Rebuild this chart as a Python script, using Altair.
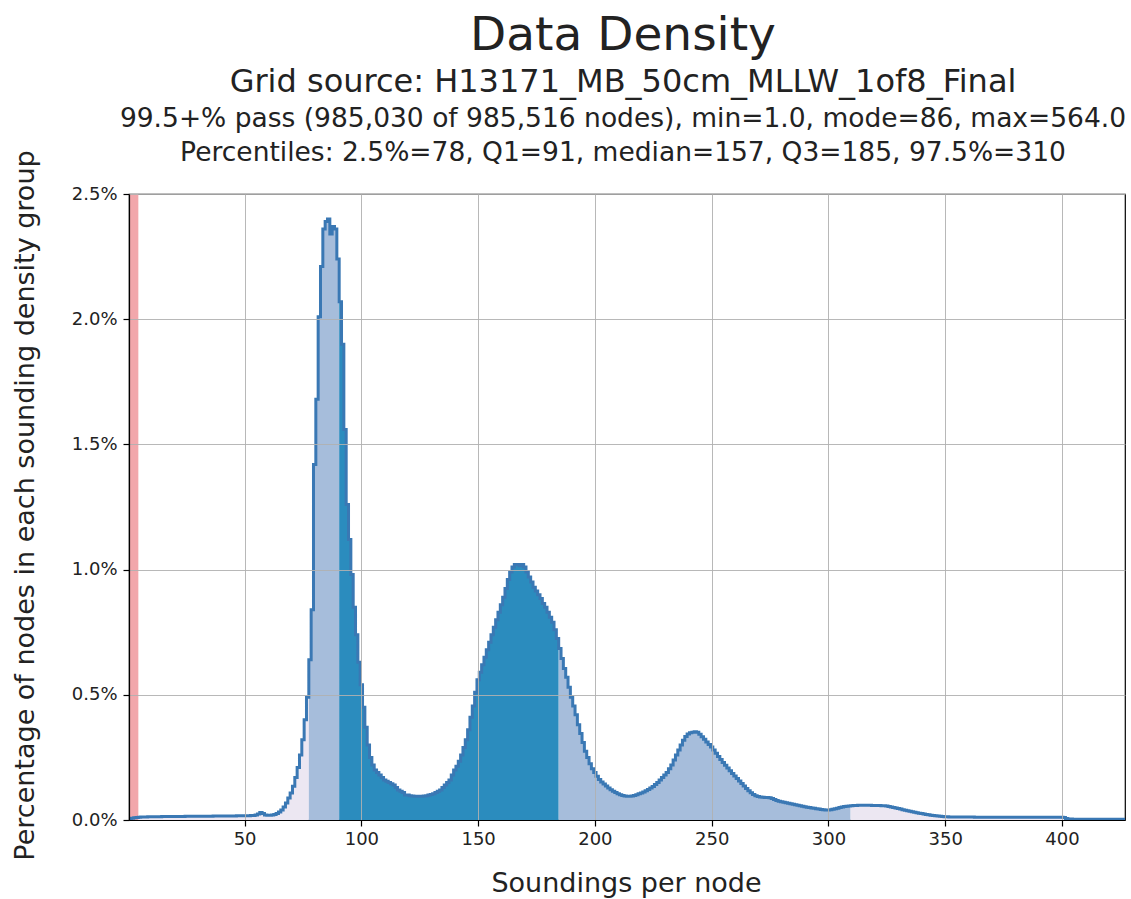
import altair as alt
import pandas as pd

# Sounding-density histogram: percentage of nodes in each 1-sounding bin,
# bins centred on the integer counts starting at FIRST_BIN.
FIRST_BIN = 1

pct_bins_001_054 = [
    0.004, 0.007, 0.009, 0.010, 0.011, 0.012, 0.012, 0.012, 0.013, 0.013,
    0.013, 0.013, 0.013, 0.013, 0.014, 0.014, 0.014, 0.014, 0.014, 0.014,
    0.014, 0.014, 0.014, 0.014, 0.015, 0.015, 0.015, 0.015, 0.015, 0.015,
    0.015, 0.015, 0.015, 0.015, 0.015, 0.015, 0.016, 0.016, 0.016, 0.016,
    0.016, 0.016, 0.016, 0.016, 0.016, 0.016, 0.017, 0.017, 0.017, 0.017,
    0.017, 0.017, 0.018, 0.018,
]
pct_bins_055_119 = [
    0.020, 0.024, 0.030, 0.026, 0.020, 0.019, 0.019, 0.020, 0.022, 0.026,
    0.032, 0.040, 0.052, 0.068, 0.088, 0.108, 0.135, 0.170, 0.210, 0.260,
    0.320, 0.400, 0.490, 0.640, 0.840, 1.420, 1.680, 2.010, 2.210, 2.360,
    2.390, 2.400, 2.340, 2.370, 2.360, 2.240, 2.070, 1.900, 1.560, 1.260,
    1.120, 0.980, 0.850, 0.740, 0.630, 0.540, 0.450, 0.370, 0.300, 0.250,
    0.220, 0.200, 0.190, 0.180, 0.170, 0.160, 0.155, 0.150, 0.145, 0.140,
    0.130, 0.120, 0.115, 0.110, 0.100,
]
pct_bins_120_219 = [
    0.100, 0.097, 0.096, 0.095, 0.095, 0.095, 0.095, 0.096, 0.097, 0.100,
    0.102, 0.105, 0.110, 0.115, 0.120, 0.130, 0.140, 0.150, 0.160, 0.180,
    0.200, 0.215, 0.235, 0.260, 0.290, 0.320, 0.360, 0.410, 0.455, 0.510,
    0.560, 0.590, 0.620, 0.650, 0.680, 0.710, 0.740, 0.770, 0.800, 0.830,
    0.860, 0.890, 0.925, 0.960, 0.990, 1.010, 1.020, 1.020, 1.015, 1.020,
    1.010, 0.990, 0.970, 0.950, 0.930, 0.915, 0.900, 0.885, 0.865, 0.850,
    0.830, 0.810, 0.790, 0.760, 0.725, 0.685, 0.645, 0.605, 0.570, 0.530,
    0.490, 0.455, 0.420, 0.380, 0.345, 0.310, 0.275, 0.250, 0.225, 0.205,
    0.190, 0.175, 0.162, 0.152, 0.144, 0.136, 0.128, 0.121, 0.115, 0.110,
    0.105, 0.101, 0.098, 0.096, 0.095, 0.095, 0.096, 0.098, 0.101, 0.105,
]
pct_bins_220_300 = [
    0.108, 0.112, 0.117, 0.122, 0.128, 0.134, 0.142, 0.150, 0.160, 0.170,
    0.180, 0.190, 0.205, 0.220, 0.240, 0.260, 0.280, 0.300, 0.318, 0.333,
    0.343, 0.348, 0.350, 0.352, 0.350, 0.342, 0.332, 0.322, 0.312, 0.302,
    0.292, 0.280, 0.267, 0.254, 0.242, 0.230, 0.219, 0.208, 0.197, 0.186,
    0.176, 0.166, 0.156, 0.146, 0.136, 0.126, 0.117, 0.109, 0.102, 0.097,
    0.094, 0.092, 0.091, 0.090, 0.090, 0.089, 0.086, 0.082, 0.078, 0.075,
    0.073, 0.071, 0.069, 0.067, 0.065, 0.063, 0.061, 0.059, 0.057, 0.055,
    0.053, 0.051, 0.050, 0.048, 0.047, 0.045, 0.044, 0.042, 0.041, 0.040,
    0.040,
]
pct_bins_301_427 = [
    0.041, 0.043, 0.045, 0.047, 0.050, 0.052, 0.054, 0.055, 0.056,
    0.057, 0.058, 0.058, 0.059, 0.059, 0.059, 0.059, 0.059, 0.059, 0.058,
    0.058, 0.058, 0.058, 0.057, 0.057, 0.056, 0.054, 0.052, 0.050, 0.048,
    0.046, 0.044, 0.041, 0.039, 0.037, 0.035, 0.033, 0.031, 0.029, 0.027,
    0.026, 0.024, 0.022, 0.021, 0.019, 0.018, 0.017, 0.016, 0.015, 0.014,
    0.013, 0.013, 0.012, 0.012, 0.012, 0.012, 0.012, 0.012, 0.012, 0.012,
    0.012, 0.012, 0.012, 0.011, 0.011, 0.011, 0.011, 0.011, 0.011, 0.011,
    0.011, 0.011, 0.011, 0.011, 0.011, 0.011, 0.011, 0.011, 0.011, 0.011,
    0.011, 0.011, 0.011, 0.011, 0.011, 0.011, 0.011, 0.011, 0.011, 0.011,
    0.011, 0.011, 0.011, 0.011, 0.011, 0.011, 0.011, 0.011, 0.011, 0.011,
    0.011, 0.010, 0.006, 0.004, 0.004, 0.003, 0.003, 0.003, 0.003, 0.003,
    0.003, 0.003, 0.003, 0.003, 0.003, 0.003, 0.003, 0.003, 0.003, 0.003,
    0.003, 0.003, 0.003, 0.003, 0.003, 0.003, 0.003, 0.003,
]

# Summary statistics shown in the header
grid_source = "H13171_MB_50cm_MLLW_1of8_Final"
nodes_pass = 985030
nodes_total = 985516
stat_min = 1.0
stat_mode = 86
stat_max = 564.0
pctl_2_5 = 78
pctl_q1 = 91
pctl_median = 157
pctl_q3 = 185
pctl_97_5 = 310
min_soundings = 5  # nodes with fewer soundings than this fail

x_tick_values = [50, 100, 150, 200, 250, 300, 350, 400]
y_tick_values = [0.0, 0.5, 1.0, 1.5, 2.0, 2.5]
x_domain = [0.5, 427]
y_domain = [0.0, 2.5]

band_domain = ["outer", "middle", "inner"]
band_range = ["#ece7f2", "#a6bddb", "#2b8cbe"]
outline_color = "#3a78b4"
fail_color = "#f2a7ab"
text_color = "#222222"
font = "DejaVu Sans"

W, H = 996, 626

# ---------------------------------------------------------------- tables
pct = (pct_bins_001_054 + pct_bins_055_119 + pct_bins_120_219
       + pct_bins_220_300 + pct_bins_301_427)
bins = list(range(FIRST_BIN, FIRST_BIN + len(pct)))


def band_of(k):
    if k < pctl_2_5 or k >= pctl_97_5:
        return "outer"
    if k < pctl_q1 or k >= pctl_q3:
        return "middle"
    return "inner"


# Filled step areas, one contiguous run per percentile band
fill_rows = []
seg = 0
prev_band = None
for i, (k, v) in enumerate(zip(bins, pct)):
    b = band_of(k)
    if prev_band is not None and b != prev_band:
        # close the previous run at its right bin edge
        fill_rows.append({"x": k - 0.5, "pct": pct[i - 1], "band": prev_band, "seg": seg})
        seg += 1
    fill_rows.append({"x": k - 0.5, "pct": v, "band": b, "seg": seg})
    prev_band = b
fill_rows.append({"x": bins[-1] + 0.5, "pct": pct[-1], "band": prev_band, "seg": seg})
fills_df = pd.DataFrame(fill_rows)

outline_df = pd.DataFrame(
    {"x": [k - 0.5 for k in bins] + [bins[-1] + 0.5], "pct": pct + [pct[-1]]}
)
fail_df = pd.DataFrame({"x": [x_domain[0]], "x_end": [min_soundings - 0.5]})

# ---------------------------------------------------------------- encodings
x_scale = alt.Scale(domain=x_domain, nice=False, zero=False)
y_scale = alt.Scale(domain=y_domain, nice=False, zero=False)

grid_kw = dict(grid=True, gridColor="#b0b0b0", gridOpacity=0.9, gridWidth=1,
               domainColor="black", domainWidth=1.2,
               tickColor="black", tickSize=6, tickWidth=1.2,
               labelFont=font, labelFontSize=18, labelColor=text_color,
               titleFont=font, titleFontWeight="normal", titleColor=text_color,
               zindex=1)

x_axis = alt.Axis(values=x_tick_values, format="d", labelPadding=4, labelFlush=False,
                  title="Soundings per node", titleFontSize=27,
                  titleX=497, titleY=71, titleAlign="center",
                  titleBaseline="alphabetic", **grid_kw)
y_axis = alt.Axis(values=y_tick_values,
                  labelExpr="format(datum.value, '.1f') + '%'",
                  labelPadding=6, labelFlush=False,
                  title="Percentage of nodes in each sounding density group",
                  titleFontSize=27, titleAngle=270, titleX=-104, titleY=311,
                  titleAlign="center", titleBaseline="middle", **grid_kw)

X = alt.X("x:Q", scale=x_scale, axis=x_axis)
Y = alt.Y("pct:Q", scale=y_scale, axis=y_axis, stack=None)

fills = alt.Chart(fills_df).mark_area(interpolate="step-after", clip=True).encode(
    x=X,
    y=Y,
    color=alt.Color("band:N", scale=alt.Scale(domain=band_domain, range=band_range),
                    legend=None),
    detail="seg:N",
)

fail_span = alt.Chart(fail_df).mark_rect(color=fail_color, clip=True).encode(
    x=X,
    x2="x_end:Q",
    y=alt.value(0),
    y2=alt.value(H),
)

outline = alt.Chart(outline_df).mark_line(
    interpolate="step-after", color=outline_color, strokeWidth=3, clip=True
).encode(x=X, y=Y)

header_lines = [
    ("Data Density", 47, -144),
    (f"Grid source: {grid_source}", 32, -102),
    (f"99.5+% pass ({nodes_pass:,} of {nodes_total:,} nodes), "
     f"min={stat_min:.1f}, mode={stat_mode}, max={stat_max:.1f}", 26.5, -67),
    (f"Percentiles: 2.5%={pctl_2_5}, Q1={pctl_q1}, median={pctl_median}, "
     f"Q3={pctl_q3}, 97.5%={pctl_97_5}", 26.5, -33),
]
headers = [
    alt.Chart(pd.DataFrame({"t": [txt]})).mark_text(
        font=font, fontSize=size, color=text_color, align="center",
        baseline="alphabetic"
    ).encode(text="t:N", x=alt.value(494), y=alt.value(yy))
    for txt, size, yy in header_lines
]

chart = (
    alt.layer(fills, fail_span, outline, *headers)
    .properties(
        width=W,
        height=H,
        autosize=alt.AutoSizeParams(type="none"),
        padding={"left": 129, "top": 194, "right": 6, "bottom": 79},
        background="white",
    )
    .configure_view(stroke="black", strokeWidth=1.2)
)

chart.save("out.html", embed_options={"renderer": "svg", "actions": False})
